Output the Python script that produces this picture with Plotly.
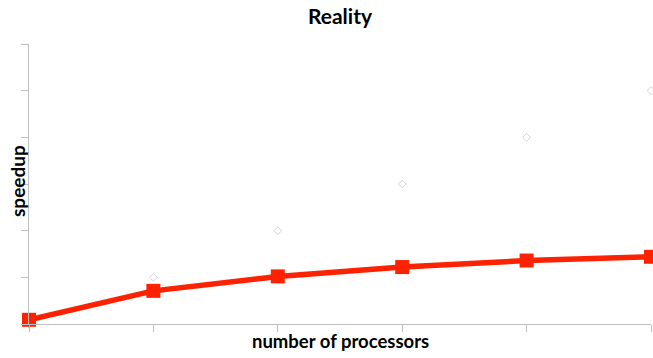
import plotly.graph_objects as go

processors = [0, 1, 2, 3, 4, 5]
ideal_speedup = [0, 1, 2, 3, 4, 5]
real_speedup = [0.09, 0.71, 1.02, 1.22, 1.36, 1.44]

fig = go.Figure()
fig.add_trace(go.Scatter(
    x=processors, y=ideal_speedup, mode="markers",
    marker=dict(symbol="diamond-open", size=6, color="#d4d4d4", line=dict(width=1)),
    cliponaxis=False, showlegend=False))
fig.add_trace(go.Scatter(
    x=processors, y=real_speedup, mode="lines+markers",
    line=dict(color="#ff2200", width=5.5),
    marker=dict(symbol="square", size=14, color="#ff2200"),
    cliponaxis=False, showlegend=False))

axis_common = dict(showgrid=False, zeroline=False, showline=True, linecolor="#bfbfbf",
                   linewidth=1, ticks="outside", ticklen=7, tickcolor="#bfbfbf",
                   showticklabels=False)
fig.update_layout(
    width=653, height=358,
    margin=dict(l=29, r=2, t=44, b=34),
    paper_bgcolor="white", plot_bgcolor="white",
    xaxis=dict(range=[0, 5], dtick=1, tick0=0, **axis_common),
    yaxis=dict(range=[0, 6], dtick=1, tick0=0, **axis_common),
    title=dict(text="<b>Reality</b>", x=0.5, xanchor="center", xref="paper",
               y=1 - 17 / 358, yref="container", yanchor="middle",
               font=dict(family="Lato", size=21, color="black")),
    annotations=[
        dict(text="<b>number of processors</b>", xref="paper", yref="paper",
             x=0.5, y=-(341 - 324) / 280, xanchor="center", yanchor="middle", showarrow=False,
             font=dict(family="Lato", size=18.5, color="black")),
        dict(text="<b>speedup</b>", xref="paper", yref="paper",
             x=(17 - 29) / 622, y=(324 - 181) / 280, xanchor="center", yanchor="middle",
             textangle=-90, showarrow=False,
             font=dict(family="Lato", size=19, color="black")),
    ],
)
fig.write_html("out.html")
